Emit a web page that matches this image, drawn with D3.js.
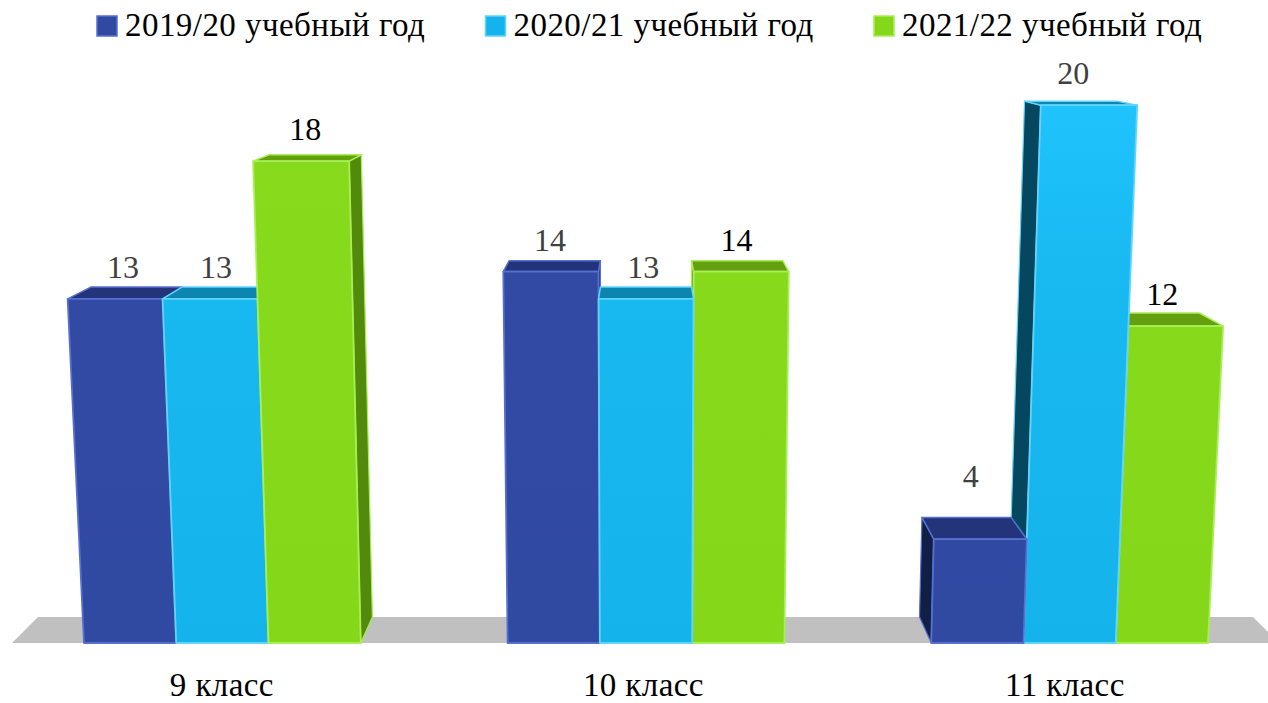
<!DOCTYPE html>
<html>
<head>
<meta charset="utf-8">
<script src="https://cdn.jsdelivr.net/npm/d3@7"></script>
<style>
  html, body { margin: 0; padding: 0; background: #fff; overflow: hidden; }
  text { font-family: "Liberation Serif", serif; }
</style>
</head>
<body>
<script>
var categories = ["9 класс", "10 класс", "11 класс"];
var seriesNames = ["2019/20 учебный год", "2020/21 учебный год", "2021/22 учебный год"];
var values2019 = [13, 14, 4];
var values2020 = [13, 13, 20];
var values2021 = [18, 14, 12];

var width = 1268, height = 703;

var colors = [
  {top: "#334ca6", mid: "#324aa4", bottom: "#3049a1", edge: "#5670d2", cap: "#23347a", side: "#111f47", label: "#404040"},
  {top: "#20c3fc", mid: "#18b8f0", bottom: "#15b3ec", edge: "#62d4fa", cap: "#0c85b0", side: "#05475f", label: "#404040"},
  {top: "#88da1c", mid: "#86d91b", bottom: "#84d719", edge: "#a8ee55", cap: "#649f10", side: "#528a0c", label: "#000000"}
];

var svg = d3.select("body").append("svg")
    .attr("width", width)
    .attr("height", height);

var x = d3.scaleBand().domain(categories).range([84, 1208]).paddingInner(0.3467).paddingOuter(0);
var xs = d3.scaleBand().domain(seriesNames).range([0, x.bandwidth()]);
var h = d3.scaleLinear().domain([0, 20]).range([0, 25.72 * 20]);

// camera: bars lean out with height, back plane shrinks to the vanishing point
var vp = {x: 645, y: 7}, backScale = 0.959, lean = 0.00218, floorY = 643;

function front(px, v) {
  var w = 1 - lean * v;
  return [vp.x + (px - vp.x) / w, floorY - h(v) / w];
}
function back(px, v) {
  var p = front(px, v);
  return [vp.x + (p[0] - vp.x) * backScale, vp.y + (p[1] - vp.y) * backScale];
}
function poly(pts) { return pts.map(function(p) { return p.join(","); }).join(" "); }

var defs = svg.append("defs");
colors.forEach(function(c, i) {
  var g = defs.append("linearGradient").attr("id", "g" + i)
    .attr("gradientUnits", "userSpaceOnUse")
    .attr("x1", 0).attr("x2", 0).attr("y1", 100).attr("y2", floorY);
  g.append("stop").attr("offset", 0).attr("stop-color", c.top);
  g.append("stop").attr("offset", 0.36).attr("stop-color", c.mid);
  g.append("stop").attr("offset", 1).attr("stop-color", c.bottom);
});

// floor
var floorL = x.range()[0] - 72, floorR = x.range()[1] + 71;
svg.append("polygon")
  .attr("points", poly([[floorL, floorY], back(floorL, 0), back(floorR, 0), [floorR, floorY]]))
  .attr("fill", "#c0c0c0");

var bars = [];
[values2019, values2020, values2021].forEach(function(vals, s) {
  vals.forEach(function(v, c) {
    var x0 = x(categories[c]) + xs(seriesNames[s]);
    bars.push({s: s, v: v, x0: x0, x1: x0 + xs.bandwidth()});
  });
});
// outermost bars first, the ones nearest the middle cover them
bars.sort(function(a, b) {
  return Math.abs(b.x0 + b.x1 - 2 * vp.x) - Math.abs(a.x0 + a.x1 - 2 * vp.x);
});

var g = svg.selectAll("g.bar").data(bars).enter().append("g").attr("class", "bar");

g.each(function(d) {
  var sel = d3.select(this), c = colors[d.s];
  var sideX = d.x1 < vp.x ? d.x1 : d.x0;
  if (d.x0 > vp.x || d.x1 < vp.x) {
    sel.append("polygon")
      .attr("points", poly([front(sideX, 0), back(sideX, 0), back(sideX, d.v), front(sideX, d.v)]))
      .attr("fill", c.side).attr("stroke", c.edge).attr("stroke-width", 1.2).attr("stroke-linejoin", "round");
  }
  sel.append("polygon")
    .attr("points", poly([front(d.x0, d.v), back(d.x0, d.v), back(d.x1, d.v), front(d.x1, d.v)]))
    .attr("fill", c.cap).attr("stroke", c.edge).attr("stroke-width", 1.5).attr("stroke-linejoin", "round");
  sel.append("polygon")
    .attr("points", poly([front(d.x0, 0), front(d.x0, d.v), front(d.x1, d.v), front(d.x1, 0)]))
    .attr("fill", "url(#g" + d.s + ")").attr("stroke", c.edge).attr("stroke-width", 1.8).attr("stroke-linejoin", "round");
});

// value labels
svg.selectAll("text.value").data(bars).enter().append("text")
  .attr("class", "value")
  .attr("x", function(d) {
    var mid = (front(d.x0, d.v)[0] + front(d.x1, d.v)[0]) / 2;
    return mid - 2.8 - 0.02 * (mid - vp.x) - (d.v >= 20 ? 4 : 0);
  })
  .attr("y", function(d) { return front(d.x0, d.v)[1] - (d.v < 5 ? 52 : 21); })
  .attr("text-anchor", "middle")
  .attr("font-size", 32)
  .attr("fill", function(d) { return colors[d.s].label; })
  .text(function(d) { return d.v; });

// category labels
svg.selectAll("text.cat").data(categories).enter().append("text")
  .attr("class", "cat")
  .attr("x", function(d) {
    var c = x(d) + x.bandwidth() / 2;
    return c - 0.5 - (c - 222) * 0.005;
  })
  .attr("y", 695.5)
  .attr("text-anchor", "middle")
  .attr("font-size", 33)
  .attr("letter-spacing", 0.4)
  .attr("fill", "#000")
  .text(function(d) { return d; });

// legend
var legendX = d3.scalePoint().domain(seriesNames).range([96, 873]);
var legend = svg.selectAll("g.legend").data(seriesNames).enter().append("g")
  .attr("class", "legend")
  .attr("transform", function(d) { return "translate(" + legendX(d) + ",0)"; });
legend.append("rect")
  .attr("x", 1).attr("y", 16).attr("width", 20).attr("height", 20)
  .attr("fill", function(d, i) { return colors[i].bottom; })
  .attr("stroke", function(d, i) { return colors[i].edge; })
  .attr("stroke-width", 1.5);
legend.append("text")
  .attr("x", 29).attr("y", 36)
  .attr("font-size", 33)
  .attr("letter-spacing", 0.45)
  .attr("fill", "#000")
  .text(function(d) { return d; });
</script>
</body>
</html>
